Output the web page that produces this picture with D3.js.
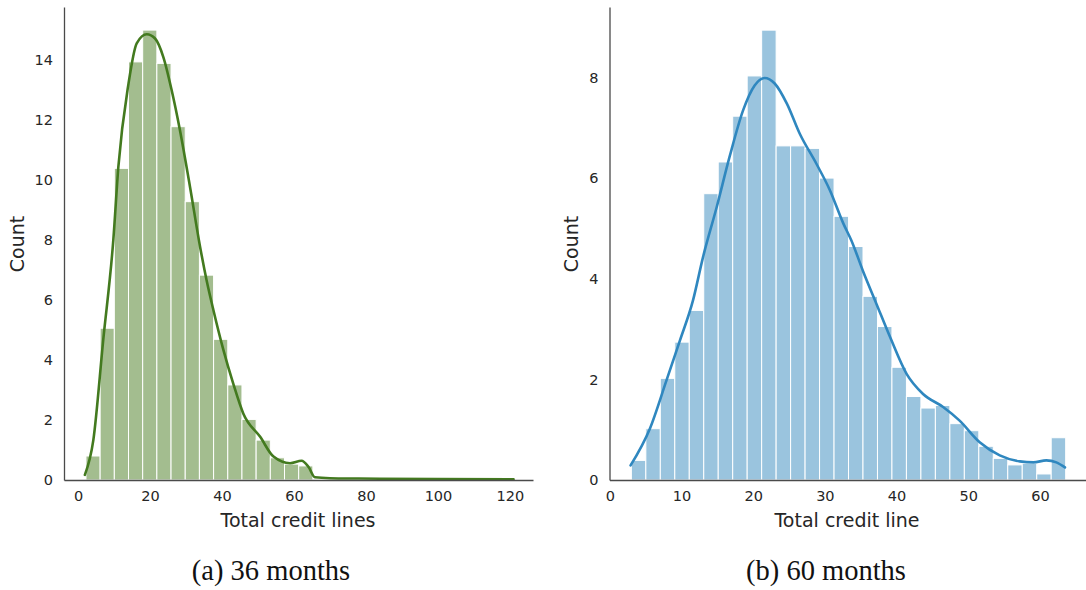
<!DOCTYPE html>
<html><head><meta charset="utf-8">
<script src="https://cdn.jsdelivr.net/npm/d3@7"></script>
<style>body{margin:0;background:#fff}svg{display:block}</style>
</head><body>
<svg id="c" width="1086" height="590"></svg>
<script>
// ---- Data ----
// (a) 36 months: histogram bins (start, width) and heights, KDE curve
const leftBinStart = 2.2;
const leftBinWidth = 3.94;
const leftCounts = [0.8, 5.06, 10.39, 13.94, 15.0, 13.89, 11.78, 9.28, 6.83, 4.69, 3.17, 2.02, 1.33, 0.74, 0.53, 0.47];
const leftKdeX = [1.9, 4.25, 7.0, 9.8, 11.2, 14.0, 16.3, 19.1, 21.4, 23.7, 26.0, 28.3, 31.1, 33.9, 35.7, 37.6, 40.4, 43.1, 45.9, 50.6, 54.3, 58.9, 62.1, 64.0, 65.8, 70, 78, 100, 121];
const leftKdeY = [0.17, 1.33, 4.67, 8.0, 10.44, 13.2, 14.56, 14.86, 14.72, 14.1, 13.0, 11.67, 9.78, 7.78, 6.67, 5.67, 4.33, 3.22, 2.22, 1.44, 0.78, 0.56, 0.64, 0.44, 0.09, 0.06, 0.05, 0.03, 0.02];
const leftXTicks = [0, 20, 40, 60, 80, 100, 120];
const leftYTicks = [0, 2, 4, 6, 8, 10, 12, 14];

// (b) 60 months
const rightBinStart = 3.0;
const rightBinWidth = 2.02;
const rightCounts = [0.39, 1.02, 2.02, 2.74, 3.37, 5.69, 6.32, 7.23, 8.03, 8.94, 6.64, 6.64, 6.59, 6.0, 5.24, 4.64, 3.65, 3.05, 2.24, 1.66, 1.43, 1.48, 1.12, 0.98, 0.67, 0.43, 0.30, 0.33, 0.12, 0.84];
const rightKdeX = [2.89, 5.58, 7.9, 9.77, 11.6, 13.0, 14.9, 16.7, 18.6, 20.2, 21.6, 23.0, 24.7, 26.5, 28.8, 30.7, 32.6, 33.7, 35.3, 37.2, 39.1, 41.4, 43.7, 46.5, 48.8, 51.6, 54.4, 57.2, 59.1, 60.9, 62.3, 63.5];
const rightKdeY = [0.29, 1.02, 1.98, 2.77, 3.57, 4.43, 5.42, 6.42, 7.35, 7.84, 7.99, 7.88, 7.48, 6.88, 6.29, 5.76, 5.09, 4.76, 4.16, 3.5, 2.84, 2.11, 1.71, 1.45, 1.18, 0.75, 0.49, 0.37, 0.35, 0.39, 0.35, 0.25];
const rightXTicks = [0, 10, 20, 30, 40, 50, 60];
const rightYTicks = [0, 2, 4, 6, 8];

const panels = [
  {binStart: leftBinStart, binWidth: leftBinWidth, counts: leftCounts, kx: leftKdeX, ky: leftKdeY,
   xTicks: leftXTicks, yTicks: leftYTicks, xDomain: [-3.9, 126.4], xRange: [64, 533], yMax: 15.77,
   bar: "#a3bd8f", line: "#437a1f", xLabel: "Total credit lines", caption: "(a) 36 months",
   xLabelX: 298, captionX: 271, yLabelX: 24},
  {binStart: rightBinStart, binWidth: rightBinWidth, counts: rightCounts, kx: rightKdeX, ky: rightKdeY,
   xTicks: rightXTicks, yTicks: rightYTicks, xDomain: [-0.05, 67.05], xRange: [609.5, 1090.4], yMax: 9.4,
   bar: "#9ac4de", line: "#2f87bf", xLabel: "Total credit line", caption: "(b) 60 months",
   xLabelX: 847, captionX: 826, yLabelX: 578}
];

const svg = d3.select("#c");
const plotTop = 7, plotBottom = 480;
const axisColor = "#4a4a4a", textColor = "#262626";

panels.forEach(p => {
  const x = d3.scaleLinear().domain(p.xDomain).range(p.xRange);
  const y = d3.scaleLinear().domain([0, p.yMax]).range([plotBottom, plotTop]);
  const g = svg.append("g");

  g.selectAll("rect.bar").data(p.counts).join("rect")
    .attr("class", "bar")
    .attr("x", (d, i) => x(p.binStart + i * p.binWidth))
    .attr("width", (d, i) => x(p.binStart + (i + 1) * p.binWidth) - x(p.binStart + i * p.binWidth))
    .attr("y", d => y(d))
    .attr("height", d => y(0) - y(d))
    .attr("fill", p.bar)
    .attr("stroke", "#ffffff")
    .attr("stroke-width", 1);

  const pts = p.kx.map((v, i) => [v, p.ky[i]]);
  g.append("path").datum(pts)
    .attr("d", d3.line().x(d => x(d[0])).y(d => y(d[1])).curve(d3.curveMonotoneX))
    .attr("fill", "none").attr("stroke", p.line).attr("stroke-width", 2.6)
    .attr("stroke-linecap", "round").attr("stroke-linejoin", "round");

  const xAxis = g.append("g").attr("transform", `translate(0,${plotBottom})`)
    .call(d3.axisBottom(x).tickValues(p.xTicks).tickSize(0).tickPadding(11).tickFormat(d3.format("d")));
  const yAxis = g.append("g").attr("transform", `translate(${p.xRange[0]},0)`)
    .call(d3.axisLeft(y).tickValues(p.yTicks).tickSize(0).tickPadding(11).tickFormat(d3.format("d")));
  [xAxis, yAxis].forEach(a => {
    a.select(".domain").attr("stroke", axisColor).attr("stroke-width", 1.3);
    a.selectAll("text").attr("fill", textColor).style("font-family", "DejaVu Sans").style("font-size", "14.5px");
  });

  g.append("text").attr("x", p.xLabelX).attr("y", 527).attr("text-anchor", "middle")
    .style("font-family", "DejaVu Sans").style("font-size", "19px").attr("fill", textColor).text(p.xLabel);
  g.append("text").attr("transform", `translate(${p.yLabelX},244) rotate(-90)`).attr("text-anchor", "middle")
    .style("font-family", "DejaVu Sans").style("font-size", "19px").attr("fill", textColor).text("Count");
  g.append("text").attr("x", p.captionX).attr("y", 580).attr("text-anchor", "middle")
    .style("font-family", "Liberation Serif").style("font-size", "28.5px").attr("fill", "#111").text(p.caption);
});
</script>
</body></html>
